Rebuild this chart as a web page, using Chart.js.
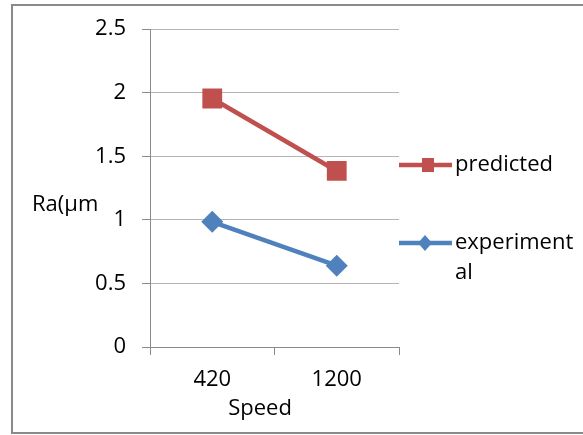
<!DOCTYPE html>
<html>
<head>
<meta charset="utf-8">
<script src="https://cdn.jsdelivr.net/npm/chart.js@4"></script>
<style>
  body { margin: 0; background: #fff; }
</style>
</head>
<body>
<canvas id="raChart" width="583" height="435"></canvas>
<script>
const speeds = ['420', '1200'];
const predicted = [1.955, 1.385];
const experimental = [0.985, 0.64];
const yTicks = [0, 0.5, 1, 1.5, 2, 2.5];

const FONT = '"Open Sans", sans-serif';
const RED = '#C0504D';
const BLUE = '#4F81BD';

// frame, axis titles and the legend (Excel style, legend text wraps)
const extras = {
    id: 'extras',
    beforeDraw(chart) {
        const c = chart.ctx;
        c.save();
        c.fillStyle = '#fff';
        c.fillRect(0, 0, chart.width, chart.height);
        c.strokeStyle = '#8a8a8a';
        c.lineWidth = 2;
        c.beginPath();
        c.moveTo(600, 5);
        c.lineTo(12, 5);
        c.lineTo(12, 433);
        c.lineTo(600, 433);
        c.stroke();
        c.restore();
    },
    afterDraw(chart) {
        const c = chart.ctx;
        c.save();
        c.fillStyle = '#000';
        c.font = '22px ' + FONT;
        c.textBaseline = 'middle';
        c.textAlign = 'left';
        c.fillText('Ra(µm', 32, 205);
        c.textAlign = 'center';
        c.fillText('Speed', 260, 409);

        // legend
        c.lineWidth = 4.5;
        c.strokeStyle = RED;
        c.beginPath(); c.moveTo(399, 165); c.lineTo(452, 165); c.stroke();
        c.fillStyle = RED;
        c.fillRect(422, 158, 12, 14);
        c.strokeStyle = BLUE;
        c.beginPath(); c.moveTo(399, 243); c.lineTo(452, 243); c.stroke();
        c.fillStyle = BLUE;
        c.beginPath();
        c.moveTo(425, 235); c.lineTo(432, 243); c.lineTo(425, 251); c.lineTo(418, 243);
        c.closePath(); c.fill();

        c.fillStyle = '#000';
        c.textAlign = 'left';
        c.fillText('predicted', 455, 165);
        c.fillText('experiment', 455, 243);
        c.fillText('al', 455, 273);
        c.restore();
    }
};

new Chart(document.getElementById('raChart'), {
    type: 'line',
    data: {
        labels: speeds,
        datasets: [{
            label: 'predicted',
            data: predicted,
            borderColor: RED,
            backgroundColor: RED,
            borderWidth: 4.5,
            pointStyle: 'rect',
            pointRadius: 14,
            pointBorderWidth: 0
        }, {
            label: 'experimental',
            data: experimental,
            borderColor: BLUE,
            backgroundColor: BLUE,
            borderWidth: 4.5,
            pointStyle: 'rectRot',
            pointRadius: 11,
            pointBorderWidth: 0
        }]
    },
    options: {
        responsive: false,
        animation: false,
        layout: { padding: { left: 0, top: 27, right: 184, bottom: 0 } },
        plugins: {
            legend: { display: false },
            tooltip: { enabled: false }
        },
        scales: {
            x: {
                offset: true,
                grid: {
                    offset: true,
                    drawOnChartArea: false,
                    tickLength: 8,
                    color: '#8a8a8a'
                },
                border: { color: '#8a8a8a' },
                ticks: {
                    color: '#000',
                    padding: 12,
                    font: { family: FONT, size: 22 }
                },
                afterFit(scale) { scale.height = 88; }
            },
            y: {
                min: 0,
                max: 2.5,
                afterBuildTicks(scale) { scale.ticks = yTicks.map(v => ({ value: v })); },
                grid: {
                    color: '#b4b4b4',
                    tickColor: '#8a8a8a',
                    tickLength: 8
                },
                border: { color: '#8a8a8a' },
                ticks: {
                    color: '#000',
                    padding: 16,
                    font: { family: FONT, size: 22 },
                    callback: v => String(v)
                },
                afterFit(scale) { scale.width = 150; }
            }
        }
    },
    plugins: [extras]
});
</script>
</body>
</html>
